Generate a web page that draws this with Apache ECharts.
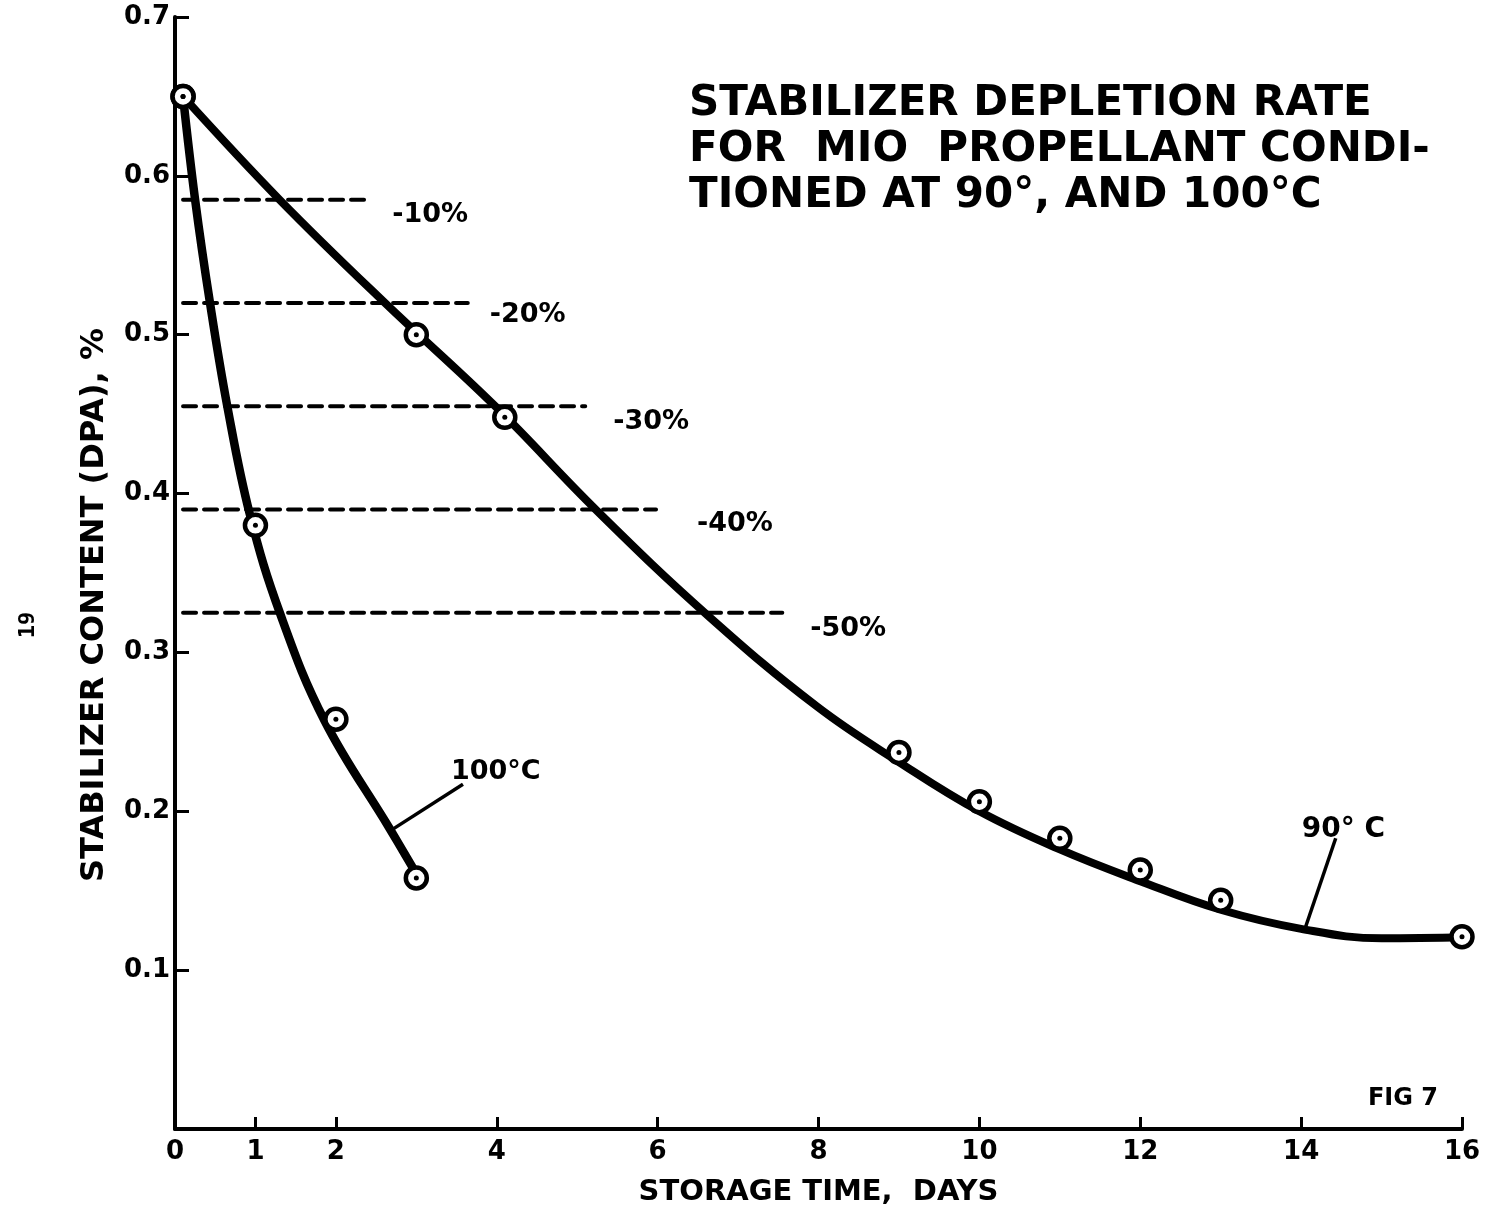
<!DOCTYPE html>
<html>
<head>
<meta charset="utf-8">
<script src="https://cdn.jsdelivr.net/npm/echarts@6/dist/echarts.min.js"></script>
<style>
html,body{margin:0;padding:0;background:#fff;}
#chart{width:1488px;height:1212px;}
</style>
</head>
<body>
<div id="chart"></div>
<script>
// ---- data ----
var xTickValues = [0, 1, 2, 4, 6, 8, 10, 12, 14, 16];
var yTickLabels = ['0.1', '0.2', '0.3', '0.4', '0.5', '0.6', '0.7'];

// measured points (storage time in days, stabilizer content %)
var pts90 = [[0.1, 0.65], [3, 0.5], [4.1, 0.448], [9, 0.237], [10, 0.206], [11, 0.183], [12, 0.163], [13, 0.144], [16, 0.121]];
var pts100 = [[0.1, 0.65], [1, 0.38], [2, 0.258], [3, 0.158]];

// drawn (fitted) curves
var curve90 = [[0.1, 0.65], [1.3, 0.585], [2.61, 0.52], [3.98, 0.455], [5.25, 0.389], [6.63, 0.323], [7.98, 0.266], [9.0, 0.231], [10, 0.2], [11, 0.176], [12, 0.156], [13, 0.138], [14, 0.126], [15, 0.12], [16.3, 0.121]];
var curve100 = [[0.1, 0.65], [0.25, 0.585], [0.435, 0.52], [0.65, 0.455], [0.93, 0.387], [1.31, 0.324], [1.86, 0.257], [2.67, 0.189], [2.95, 0.165]];

// depletion reference lines
var thrLabels = ['-10%', '-20%', '-30%', '-40%', '-50%'];
var thrValues = [0.585, 0.52, 0.455, 0.39, 0.325];
var thrEnds = [2.39, 3.64, 5.10, 5.98, 7.55];

// curve label leaders
var leader100 = [[2.67, 0.1875], [3.58, 0.217]];
var leader90 = [[14.05, 0.1264], [14.43, 0.183]];
var curveNames = ['100°C', '90° C'];

// ---- styles ----
var FONT = 'DejaVu Sans';
var thrLabelOffsets = [[25, 15], [22, 12], [28, 16], [41, 15], [28, 16]];

var chart = echarts.init(document.getElementById('chart'), null, {renderer: 'canvas'});

var series = [];
series.push({
  type: 'line', data: curve90, smooth: 0.4, symbol: 'none',
  lineStyle: {color: '#000', width: 8, cap: 'round'}, z: 3, silent: true
});
series.push({
  type: 'line', data: curve100, smooth: 0.4, symbol: 'none',
  lineStyle: {color: '#000', width: 8.5, cap: 'round'}, z: 3, silent: true
});
thrValues.forEach(function (v, i) {
  series.push({
    type: 'line', data: [[0.1, v], [thrEnds[i], v]], symbol: 'none',
    lineStyle: {color: '#000', width: 4, type: [13, 8], cap: 'round'},
    endLabel: {
      show: true, formatter: thrLabels[i], distance: 0, offset: thrLabelOffsets[i],
      color: '#000', fontFamily: FONT, fontWeight: 'bold', fontSize: 27
    },
    z: 2, silent: true
  });
});
series.push({
  type: 'line', data: leader100, symbol: 'none',
  lineStyle: {color: '#000', width: 3.5},
  endLabel: {show: true, formatter: curveNames[0], distance: 0, offset: [-12, -12],
    color: '#000', fontFamily: FONT, fontWeight: 'bold', fontSize: 27},
  z: 2, silent: true
});
series.push({
  type: 'line', data: leader90, symbol: 'none',
  lineStyle: {color: '#000', width: 3.5},
  endLabel: {show: true, formatter: curveNames[1], distance: 0, offset: [-34, -9],
    color: '#000', fontFamily: FONT, fontWeight: 'bold', fontSize: 28},
  z: 2, silent: true
});
[pts90, pts100].forEach(function (pts) {
  series.push({
    type: 'scatter', data: pts, symbol: 'circle', symbolSize: 21,
    itemStyle: {color: '#fff', borderColor: '#000', borderWidth: 4.5, opacity: 1}, z: 5, silent: true
  });
  series.push({
    type: 'scatter', data: pts, symbol: 'circle', symbolSize: 5,
    itemStyle: {color: '#000', opacity: 1}, z: 6, silent: true
  });
});

var option = {
  backgroundColor: '#fff',
  animation: false,
  title: {
    text: 'STABILIZER DEPLETION RATE\nFOR  MIO  PROPELLANT CONDI-\nTIONED AT 90°, AND 100°C',
    left: 684, top: 76,
    textStyle: {color: '#000', fontFamily: FONT, fontWeight: 'bold', fontSize: 42, lineHeight: 46}
  },
  grid: {left: 175, right: 26, top: 17, bottom: 74, containLabel: false},
  xAxis: {
    type: 'value', min: 0, max: 16,
    name: 'STORAGE TIME,  DAYS', nameLocation: 'middle', nameGap: 49,
    nameTextStyle: {color: '#000', fontFamily: FONT, fontWeight: 'bold', fontSize: 29},
    axisLine: {lineStyle: {color: '#000', width: 4}},
    axisTick: {inside: true, length: 12, lineStyle: {color: '#000', width: 3}, customValues: xTickValues},
    axisLabel: {color: '#000', fontFamily: FONT, fontWeight: 'bold', fontSize: 26, margin: 10, customValues: xTickValues},
    splitLine: {show: false}
  },
  yAxis: {
    type: 'value', min: 0, max: 0.7, interval: 0.1,
    axisLine: {show: true, lineStyle: {color: '#000', width: 4}},
    axisTick: {show: true, inside: true, length: 14, lineStyle: {color: '#000', width: 3}},
    axisLabel: {
      color: '#000', fontFamily: FONT, fontWeight: 'bold', fontSize: 26, margin: 5,
      formatter: function (v) { var s = v.toFixed(1); return yTickLabels.indexOf(s) >= 0 ? s : ''; }
    },
    splitLine: {show: false}
  },
  graphic: [
    {type: 'text', x: 95, y: 605, rotation: Math.PI / 2,
      style: {text: 'STABILIZER CONTENT (DPA), %', fill: '#000', font: 'bold 32px "DejaVu Sans"', textAlign: 'center', textVerticalAlign: 'middle'}},
    {type: 'text', x: 1403, y: 1099,
      style: {text: 'FIG 7', fill: '#000', font: 'bold 24px "DejaVu Sans"', textAlign: 'center', textVerticalAlign: 'middle'}},
    {type: 'text', x: 28, y: 625, rotation: Math.PI / 2,
      style: {text: '19', fill: '#000', font: 'bold 22px "DejaVu Sans Mono"', textAlign: 'center', textVerticalAlign: 'middle'}}
  ],
  series: series
};
chart.setOption(option);
</script>
</body>
</html>
